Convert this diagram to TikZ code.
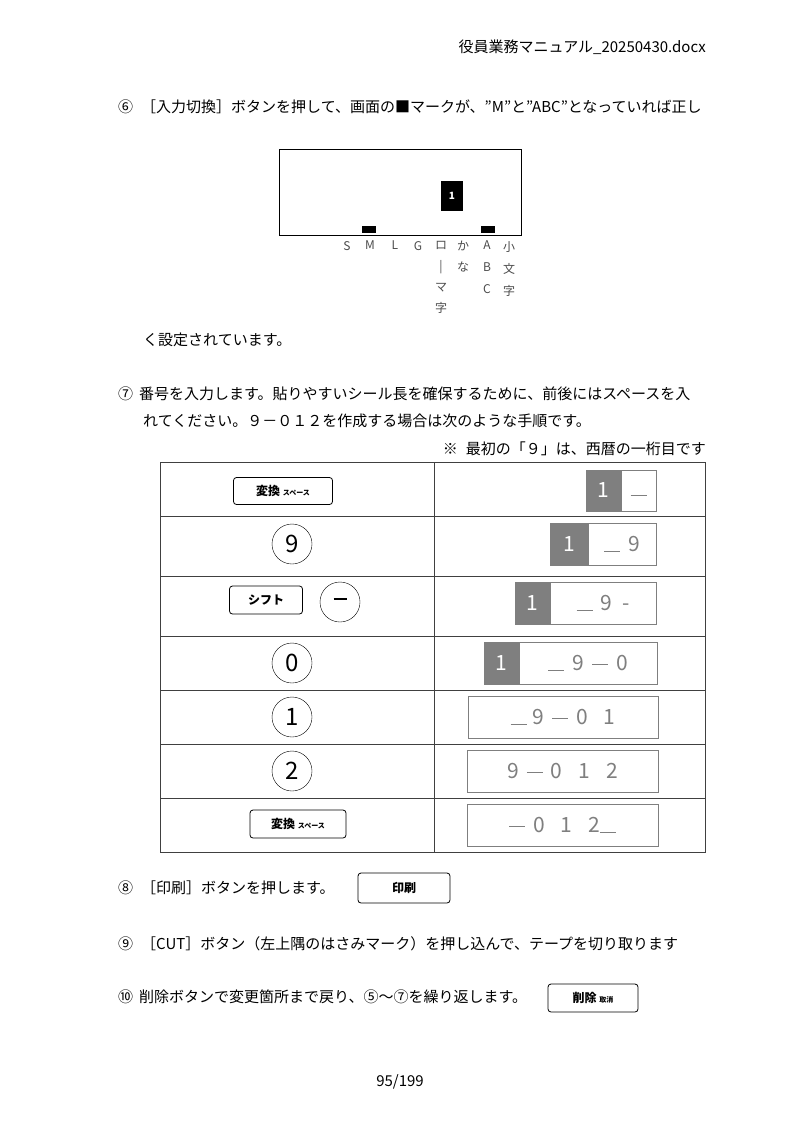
\documentclass[tikz,border=0pt]{standalone}
\usepackage{fontspec}
\setmainfont{Noto Sans CJK JP}
\usetikzlibrary{positioning}
\definecolor{lcdgray}{HTML}{7F7F7F}
\newcommand{\ul}{\rule[-1pt]{16pt}{1.2pt}}
\newcommand{\dsh}{\rule[5pt]{16pt}{1.5pt}}
\tikzset{
  body/.style={anchor=west,inner sep=0pt,font=\fontsize{15}{16}\selectfont},
  keybox/.style={draw,thick,rounded corners=3pt,inner sep=0pt,font=\fontsize{12}{13}\bfseries\selectfont},
  numkey/.style={draw,circle,minimum size=40,inner sep=0pt,font=\fontsize{24}{24}\selectfont},
  cell/.style={draw=lcdgray,thick},
  seg/.style={fill=lcdgray,draw=lcdgray,thick,text=white,font=\fontsize{21}{22}\selectfont},
  lcd/.style={text=lcdgray,font=\fontsize{21}{22}\selectfont},
  mode/.style={anchor=north,inner sep=0pt,text=black!70,font=\fontsize{12}{13}\selectfont}
}
\begin{document}
\begin{tikzpicture}[x=1pt,y=-1pt]
  \useasboundingbox[fill=white] (0,0) rectangle (800,1132);
  % header and footer
  \node[body,anchor=east] (head) at (706,47) {役員業務マニュアル\_20250430.docx};
  \node[body,anchor=center] (foot) at (400,1082) {95/199};

  % step 6
  \node[body] (s6) at (118,107) {⑥\hspace{8pt}［入力切換］ボタンを押して、画面の■マークが、”M”と”ABC”となっていれば正し};
  \draw[thick] (279,149) rectangle (521,235);% display
  \node[fill=black,text=white,minimum width=22,minimum height=30,inner sep=0pt,font=\fontsize{10}{11}\bfseries\selectfont] (cur) at (452,196) {1};
  \fill (362,226) rectangle (376,233);% M mark
  \fill (481,226) rectangle (495,233);% ABC mark
  \node[mode] (mS) at (347,241) {S};
  \node[mode] (mM) at (370,241) {M};
  \node[mode] (mL) at (395,241) {L};
  \node[mode] (mG) at (418,241) {G};
  \node[mode,align=center] (mRo) at (441,241) {ロ\\[8pt]|\\[8pt]マ\\[8pt]字};
  \node[mode,align=center] (mKa) at (463,241) {か\\[8pt]な};
  \node[mode,align=center] (mAbc) at (487,241) {A\\[9pt]B\\[9pt]C};
  \node[mode,align=center] (mSm) at (509,241) {小\\[9pt]文\\[9pt]字};
  \node[body] (s6b) at (143,340) {く設定されています。};

  % step 7
  \node[body] (s7) at (118,394) {⑦\hspace{6pt}番号を入力します。貼りやすいシール長を確保するために、前後にはスペースを入};
  \node[body] (s7b) at (143,421) {れてください。９－０１２を作成する場合は次のような手順です。};
  \node[body,anchor=east] (note) at (706,449) {※\hspace{8pt}最初の「９」は、西暦の一桁目です};

  % table
  \draw[thick,black!75] (160,462) rectangle (705,852);
  \draw[thick,black!75] (434,462) -- (434,852);
  \foreach \y in {516,576,636,690,744,798}
    \draw[thick,black!75] (160,\y) -- (705,\y);

  % row 1
  \node[keybox,minimum width=99,minimum height=27] (k1) at (283,491) {変換 {\fontsize{7}{8}\selectfont スペース}};
  \draw[seg] (586,470) rectangle node (d1a) {1} (621,511);
  \draw[cell] (621,470) rectangle node[lcd] (d1b) {\strut\ul} (656,511);
  % row 2
  \node[numkey] (k2) at (292,544) {9};
  \draw[seg] (550,523) rectangle node (d2a) {1} (588,565);
  \draw[cell] (588,523) rectangle node[lcd] (d2b) {\ul\hspace{8pt}9} (656,565);
  % row 3
  \node[keybox,minimum width=73,minimum height=28] (k3) at (266,600) {シフト};
  \node[numkey] (k3b) at (340,602) {\rule[7pt]{13pt}{2pt}};
  \draw[seg] (515,582) rectangle node (d3a) {1} (550,624);
  \draw[cell] (550,582) rectangle node[lcd] (d3b) {\ul\hspace{8pt}9\hspace{10pt}-} (656,624);
  % row 4
  \node[numkey] (k4) at (292,663) {0};
  \draw[seg] (484,642) rectangle node (d4a) {1} (519,684);
  \draw[cell] (519,642) rectangle node[lcd] (d4b) {\ul\hspace{8pt}9\hspace{8pt}\dsh\hspace{8pt}0} (657,684);
  % row 5
  \node[numkey] (k5) at (292,717) {1};
  \draw[cell] (468,696) rectangle node[lcd] (d5) {\ul\hspace{6pt}9\hspace{8pt}\dsh\hspace{8pt}0\hspace{16pt}1} (658,738);
  % row 6
  \node[numkey] (k6) at (292,771) {2};
  \draw[cell] (467,750) rectangle node[lcd] (d6) {9\hspace{8pt}\dsh\hspace{8pt}0\hspace{16pt}1\hspace{16pt}2} (658,792);
  % row 7
  \node[keybox,minimum width=96,minimum height=28] (k7) at (298,824) {変換 {\fontsize{7}{8}\selectfont スペース}};
  \draw[cell] (467,804) rectangle node[lcd] (d7) {\dsh\hspace{8pt}0\hspace{16pt}1\hspace{16pt}2\ul} (658,846);

  % steps 8 - 10
  \node[body] (s8) at (118,888) {⑧\hspace{8pt}［印刷］ボタンを押します。};
  \node[keybox,minimum width=92,minimum height=30] (k8) at (404,888) {印刷};
  \node[body] (s9) at (118,944) {⑨\hspace{8pt}［CUT］ボタン（左上隅のはさみマーク）を押し込んで、テープを切り取ります};
  \node[body] (s10) at (118,997) {⑩\hspace{6pt}削除ボタンで変更箇所まで戻り、⑤～⑦を繰り返します。};
  \node[keybox,minimum width=90,minimum height=28] (k10) at (593,998) {削除 {\fontsize{7}{8}\selectfont 取消}};
\end{tikzpicture}
\end{document}
